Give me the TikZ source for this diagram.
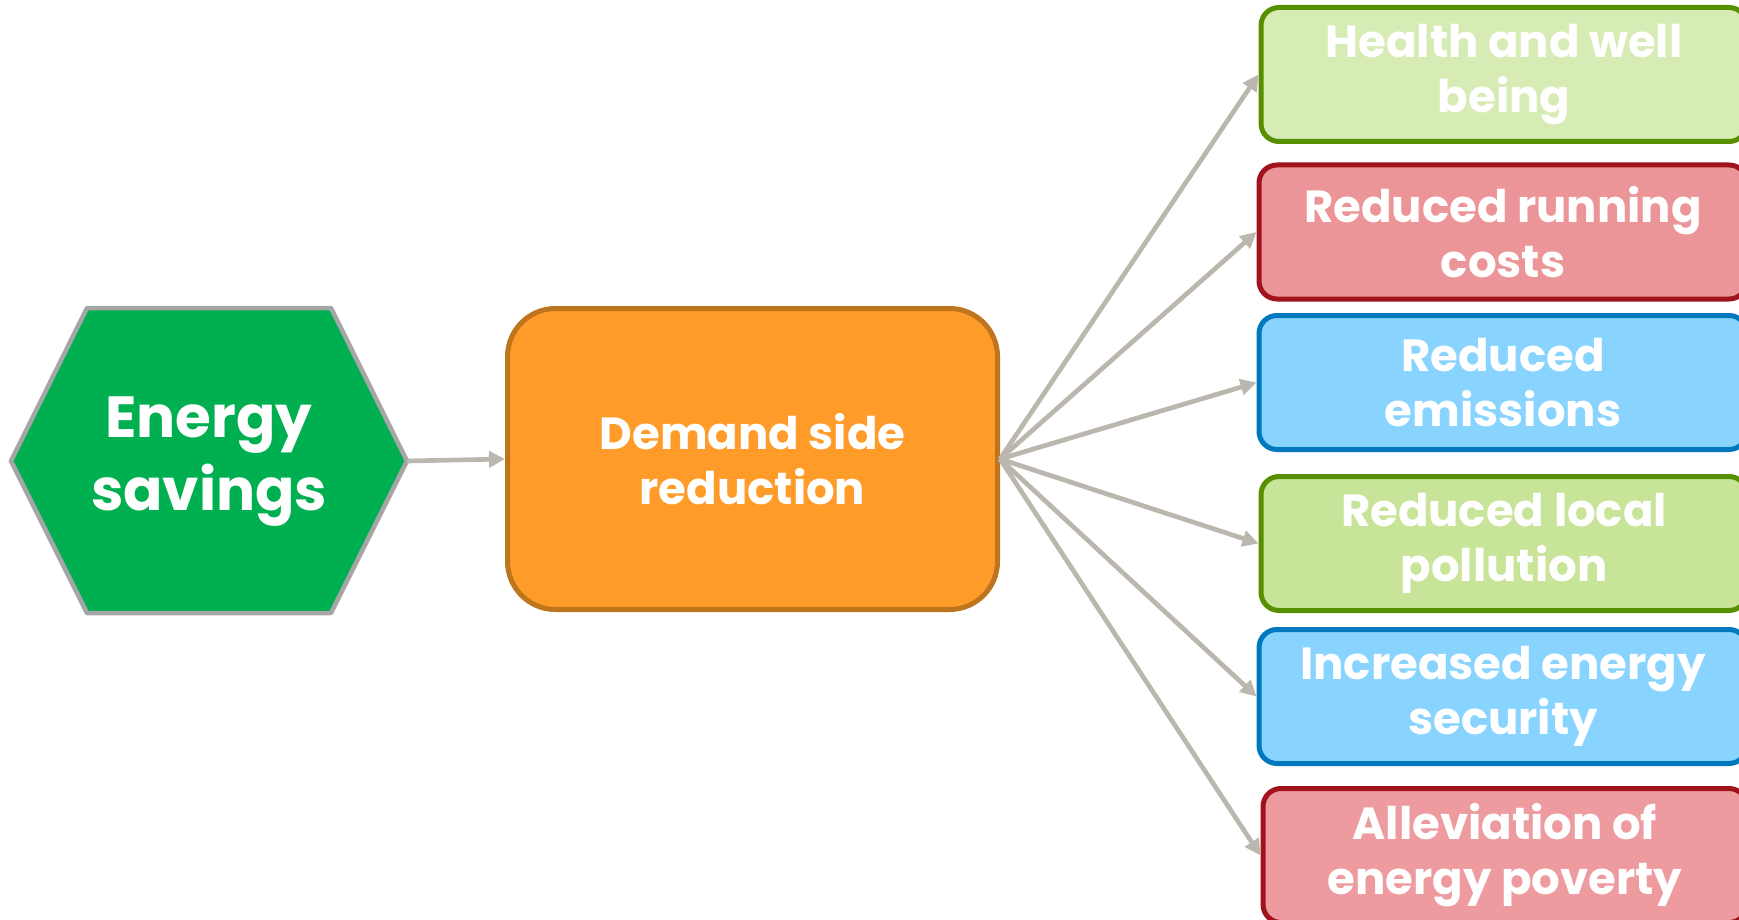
\documentclass[tikz,border=0pt]{standalone}
\usepackage{fontspec}
\setmainfont{Poppins}
\usetikzlibrary{arrows.meta}

\definecolor{hexgreen}{RGB}{0,175,80}
\definecolor{hexedge}{RGB}{166,166,166}
\definecolor{dsrfill}{RGB}{255,155,41}
\definecolor{dsredge}{RGB}{191,116,30}
\definecolor{lgreenA}{RGB}{215,235,181}
\definecolor{lgreenB}{RGB}{200,228,152}
\definecolor{greenedge}{RGB}{88,143,0}
\definecolor{pinkfill}{RGB}{235,149,152}
\definecolor{pinkfillB}{RGB}{237,155,159}
\definecolor{rededge}{RGB}{160,18,28}
\definecolor{bluefill}{RGB}{137,212,255}
\definecolor{blueedge}{RGB}{0,120,190}
\definecolor{linkgray}{RGB}{187,183,174}

\tikzset{
  outcome/.style={rectangle, rounded corners=18pt, line width=5pt,
    minimum height=134pt, inner sep=0pt, align=center, text=white,
    font=\bfseries\fontsize{45}{55}\selectfont},
  link/.style={draw=linkgray, line width=4.7pt,
    -{Triangle[length=16pt,width=16pt]}},
}

\begin{document}
\begin{tikzpicture}[x=1pt,y=-1pt]
  \useasboundingbox (0,0) rectangle (1739,920);

  % source hexagon
  \filldraw[fill=hexgreen, draw=hexedge, line width=4.5pt, line join=round]
    (11,461) -- (87,308) -- (331,308) -- (407,461) -- (331,613) -- (87,613) -- cycle;
  \node[align=center, text=white, font=\bfseries\fontsize{58}{73}\selectfont]
    (es) at (209,462) {Energy\\savings};
  \coordinate (esE) at (407,461);

  % central box
  \node[rectangle, rounded corners=48pt, fill=dsrfill, draw=dsredge,
        line width=5pt, minimum width=490pt, minimum height=301pt,
        align=center, text=white, font=\bfseries\fontsize{45}{55}\selectfont]
    (dsr) at (752.5,459) {Demand side\\reduction};

  % outcomes (their right ends run past the page edge)
  \node[outcome, fill=lgreenA, draw=greenedge, minimum width=486pt]
    (o1) at (1504,74.5) {Health and well\\being};
  \node[outcome, fill=pinkfill, draw=rededge, minimum width=488pt]
    (o2) at (1503,232) {Reduced running\\costs};
  \node[outcome, fill=bluefill, draw=blueedge, minimum width=488pt]
    (o3) at (1503,382.5) {Reduced\\emissions};
  \node[outcome, fill=lgreenB, draw=greenedge, minimum width=486pt]
    (o4) at (1504,543.5) {Reduced local\\pollution};
  \node[outcome, fill=bluefill, draw=blueedge, minimum width=488pt]
    (o5) at (1503,696.5) {Increased energy\\security};
  \node[outcome, fill=pinkfillB, draw=rededge, minimum width=484pt]
    (o6) at (1505,855.5) {Alleviation of\\energy poverty};

  % connectors
  \draw[link] (esE) -- (dsr.west);
  \foreach \t in {o1,o2,o3,o4,o5,o6}
    \draw[link] (dsr.east) -- (\t.west);
\end{tikzpicture}
\end{document}
